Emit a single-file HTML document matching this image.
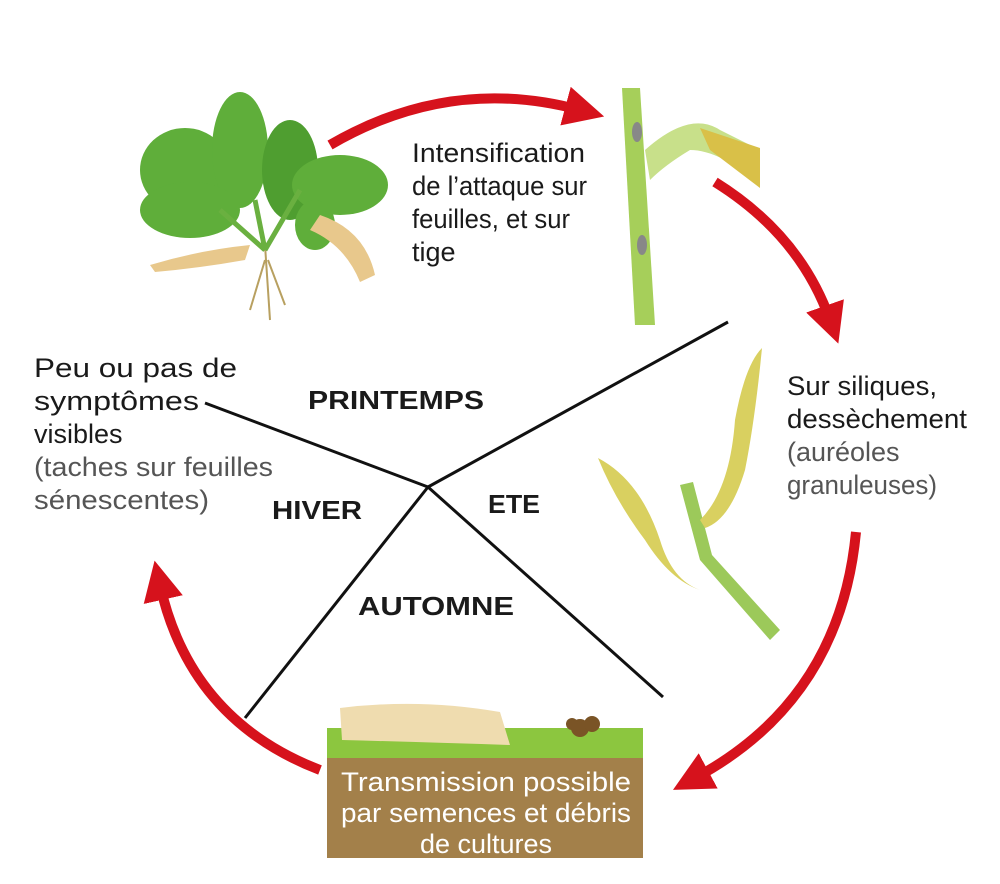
<!DOCTYPE html>
<html><head><meta charset="utf-8"><style>
html,body{margin:0;padding:0;background:#fff;}
svg{display:block}
text{font-family:"Liberation Sans",sans-serif;}
</style></head><body>
<svg width="1000" height="884" viewBox="0 0 1000 884" xmlns="http://www.w3.org/2000/svg">
<defs>
<marker id="ah" markerWidth="4" markerHeight="4" refX="1.5" refY="2" orient="auto" markerUnits="strokeWidth">
<path d="M0,0 L4,2 L0,4 z" fill="#d6121c"/></marker>
</defs>
<g fill="none" stroke="#d6121c" stroke-width="10">
<path d="M330,145 Q450,75 580,110" marker-end="url(#ah)"/>
<path d="M715,182 Q800,235 830,320" marker-end="url(#ah)"/>
<path d="M856,532 Q840,700 695,778" marker-end="url(#ah)"/>
<path d="M320,770 Q190,720 160,585" marker-end="url(#ah)"/>
</g>
<g stroke="#111" stroke-width="3" fill="none">
<line x1="428" y1="487" x2="728" y2="322"/>
<line x1="428" y1="487" x2="205" y2="403"/>
<line x1="428" y1="487" x2="245" y2="718"/>
<line x1="428" y1="487" x2="663" y2="697"/>
</g>
<g>
<path d="M265,245 L270,320 M265,260 L250,310 M268,260 L285,305" stroke="#b8a060" stroke-width="2" fill="none"/>
<ellipse cx="185" cy="170" rx="45" ry="42" fill="#5fae3a"/>
<ellipse cx="240" cy="150" rx="28" ry="58" fill="#5fae3a"/>
<ellipse cx="190" cy="210" rx="50" ry="28" fill="#5fae3a"/>
<ellipse cx="290" cy="170" rx="28" ry="50" fill="#4f9e30"/>
<ellipse cx="340" cy="185" rx="48" ry="30" fill="#5fae3a"/>
<ellipse cx="315" cy="225" rx="20" ry="25" fill="#5fae3a"/>
<path d="M150,265 Q200,250 250,245 L245,260 Q200,268 155,272 z" fill="#e8c88c"/>
<path d="M320,215 Q365,230 375,275 L360,282 Q345,245 310,230 z" fill="#e8c88c"/>
<path d="M265,250 L255,200 M265,250 L300,190 M265,250 L220,210" stroke="#6ab040" stroke-width="5"/>
</g>
<g>
<path d="M622,88 L640,88 L655,325 L635,325 z" fill="#a6cf5a"/>
<path d="M645,150 Q690,110 720,130 L760,150 L760,185 Q720,150 690,150 Q665,165 650,180 z" fill="#c8e08a"/>
<path d="M700,128 L760,148 L760,188 L710,150 z" fill="#d9c048"/>
<ellipse cx="637" cy="132" rx="5" ry="10" fill="#888"/>
<ellipse cx="642" cy="245" rx="5" ry="10" fill="#888"/>
</g>
<g>
<path d="M680,485 L700,560 L770,640 L780,630 L712,555 L693,482 z" fill="#9cc95a"/>
<path d="M700,520 Q730,490 735,420 Q745,365 762,348 Q755,420 745,470 Q730,520 705,528 z" fill="#d9d060"/>
<path d="M598,458 Q640,480 660,540 Q672,580 700,590 Q670,580 645,540 Q615,500 598,458 z" fill="#d9d060"/>
</g>
<rect x="327" y="728" width="316" height="30" fill="#8cc63f"/>
<rect x="327" y="758" width="316" height="100" fill="#a3804a"/>
<path d="M340,708 Q420,698 500,712 L510,745 Q420,742 342,740 z" fill="#efdcaf"/>
<circle cx="580" cy="728" r="9" fill="#7a5426"/><circle cx="592" cy="724" r="8" fill="#7a5426"/><circle cx="572" cy="724" r="6" fill="#7a5426"/>
<g fill="#fff" font-size="27" text-anchor="middle">
<text x="486" y="791" textLength="290" lengthAdjust="spacingAndGlyphs">Transmission possible</text>
<text x="486" y="822" textLength="290" lengthAdjust="spacingAndGlyphs">par semences et débris</text>
<text x="486" y="853">de cultures</text>
</g>
<g font-size="27" fill="#1a1a1a">
<text x="412" y="162" textLength="173" lengthAdjust="spacingAndGlyphs">Intensification</text>
<text x="412" y="195" textLength="175" lengthAdjust="spacingAndGlyphs">de l’attaque sur</text>
<text x="412" y="228" textLength="158" lengthAdjust="spacingAndGlyphs">feuilles, et sur</text>
<text x="412" y="261">tige</text>
<text x="787" y="395" textLength="150" lengthAdjust="spacingAndGlyphs">Sur siliques,</text>
<text x="787" y="428" textLength="180" lengthAdjust="spacingAndGlyphs">dessèchement</text>
<text x="34" y="377" textLength="203" lengthAdjust="spacingAndGlyphs">Peu ou pas de</text>
<text x="34" y="410" textLength="165" lengthAdjust="spacingAndGlyphs">symptômes</text>
<text x="34" y="443">visibles</text>
</g>
<g font-size="27" fill="#555">
<text x="787" y="461">(auréoles</text>
<text x="787" y="494" textLength="150" lengthAdjust="spacingAndGlyphs">granuleuses)</text>
<text x="34" y="476" textLength="239" lengthAdjust="spacingAndGlyphs">(taches sur feuilles</text>
<text x="34" y="509" textLength="175" lengthAdjust="spacingAndGlyphs">sénescentes)</text>
</g>
<g font-size="26" font-weight="bold" fill="#1a1a1a">
<text x="308" y="409" textLength="176" lengthAdjust="spacingAndGlyphs">PRINTEMPS</text>
<text x="272" y="519" textLength="90" lengthAdjust="spacingAndGlyphs">HIVER</text>
<text x="488" y="513" textLength="52" lengthAdjust="spacingAndGlyphs">ETE</text>
<text x="358" y="615" textLength="156" lengthAdjust="spacingAndGlyphs">AUTOMNE</text>
</g>
</svg>
</body></html>
